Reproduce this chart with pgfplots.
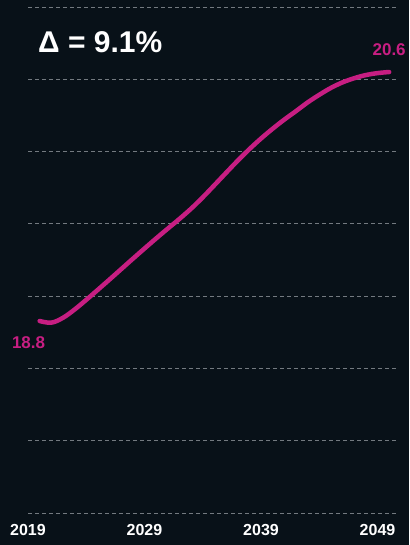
\documentclass[border=0pt]{standalone}
\usepackage{pgfplots}
\pgfplotsset{compat=1.18}
\usepackage{fontspec}
\setmainfont{Liberation Sans}
\definecolor{bg}{RGB}{8,17,24}
\definecolor{pink}{RGB}{199,30,130}
\definecolor{gridc}{RGB}{115,122,128}
\begin{document}
\begin{tikzpicture}
\fill[bg] (0,0) rectangle (409pt,545pt);
\begin{axis}[
  at={(28pt,32pt)}, anchor=south west,
  scale only axis, width=370pt, height=506pt,
  xmin=2019, xmax=2050.76,
  ymin=17.412, ymax=21.070,
  axis line style={draw=none},
  xtick={2019,2029,2039,2049},
  xticklabel style={font=\fontsize{16}{16}\selectfont\bfseries, text=white},
  /pgf/number format/assume math mode=true,
  /pgf/number format/1000 sep={},
  major tick length=0pt,
  xticklabel shift=8pt,
  ytick={17.412,17.935,18.457,18.980,19.503,20.025,20.548,21.070},
  yticklabels={},
  ymajorgrids,
  grid style={gridc, line width=0.9pt, dash pattern=on 4pt off 3pt},
  clip=false,
]
\addplot[pink, line width=4.5pt, line cap=round, smooth, tension=0.6] coordinates {
(2020,18.800) (2021,18.788) (2022,18.823) (2023,18.883) (2024,18.953)
(2025,19.026) (2026,19.100) (2027,19.175) (2028,19.250) (2029,19.324)
(2030,19.397) (2031,19.468) (2032,19.538) (2033,19.612) (2034,19.694)
(2035,19.782) (2036,19.871) (2037,19.959) (2038,20.042) (2039,20.119)
(2040,20.190) (2041,20.256) (2042,20.317) (2043,20.380) (2044,20.435)
(2045,20.485) (2046,20.525) (2047,20.555) (2048,20.578) (2049,20.592)
(2050,20.600)
};
\node[text=pink, font=\fontsize{17}{17}\selectfont\bfseries] at (axis cs:2019.05,18.645) {18.8};
\node[text=pink, font=\fontsize{17}{17}\selectfont\bfseries] at (axis cs:2050.0,20.76) {20.6};
\end{axis}
\node[anchor=base west, text=white, font=\fontsize{30}{30}\selectfont\bfseries, inner sep=0pt] at (38pt,492pt) {Δ = 9.1\%};
\pgfresetboundingbox
\useasboundingbox (0,0) rectangle (409pt,545pt);
\end{tikzpicture}
\end{document}
